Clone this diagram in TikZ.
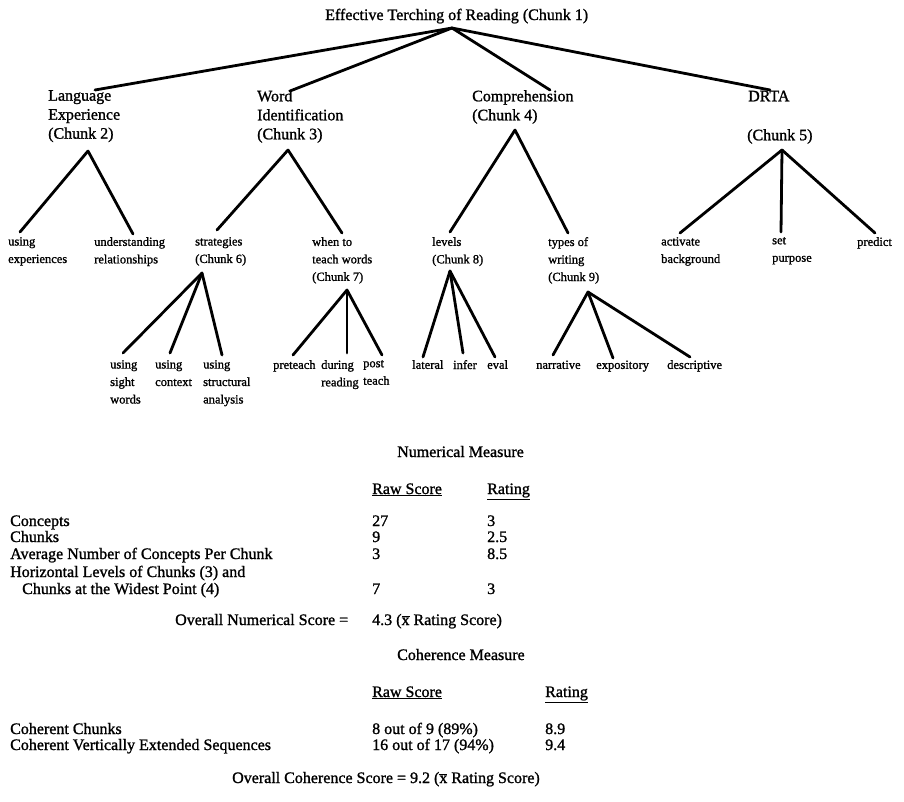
\documentclass[tikz,border=0pt]{standalone}
\usepackage{fontspec}
\setmainfont{Liberation Serif}
\newfontfamily\scanfont{Liberation Serif}[FakeBold=1.2]
\newcommand{\xbarmark}{\ensuremath{\overline{\mbox{x}}}}
\begin{document}
\begin{tikzpicture}[x=1pt,y=-1pt,
  conn/.style={line width=2.8pt, line cap=round},
  ttl/.style={font=\scanfont\fontsize{16}{19}\selectfont, inner sep=0pt, anchor=base west},
  lvtwo/.style={font=\scanfont\fontsize{16}{19}\selectfont, align=left, inner sep=0pt, anchor=north west,
     execute at begin node={\vphantom{(Ag}}},
  leaf/.style={font=\scanfont\fontsize{12.5}{17.5}\selectfont, align=left, inner sep=0pt, anchor=north west,
     execute at begin node={\vphantom{(Ag}}},
  tbl/.style={font=\scanfont\fontsize{16}{17}\selectfont, inner sep=0pt, anchor=base west},
]
\useasboundingbox (0,0) rectangle (904,801);
\fill[white] (0,0) rectangle (904,801);

% ---------- tree: level 1 and 2 ----------
\node[ttl] (c1) at (325,20) {Effective Terching of Reading (Chunk 1)};
\coordinate (c1a) at (452,28);

\node[lvtwo] (c2) at (48,90) {Language\\Experience\\(Chunk 2)};
\node[lvtwo] (c3) at (257,90) {Word\\Identification\\(Chunk 3)};
\node[lvtwo] (c4) at (472,90) {Comprehension\\(Chunk 4)};
\node[lvtwo] (c5a) at (748,90) {DRTA};
\node[lvtwo] (c5b) at (747,129) {(Chunk 5)};

\coordinate (c2t) at (95,90);
\coordinate (c3t) at (290,91);
\coordinate (c4t) at (550,90);
\coordinate (c5t) at (770,90);
\draw[conn] (c1a) -- (c2t);
\draw[conn] (c1a) -- (c3t);
\draw[conn] (c1a) -- (c4t);
\draw[conn] (c1a) -- (c5t);

\coordinate (c2x) at (88,151);
\coordinate (c3x) at (288,150);
\coordinate (c4x) at (515,130);
\coordinate (c5x) at (782,150);

% ---------- level 3 ----------
\node[leaf] (l1) at (8,237) {using\\experiences};
\node[leaf] (l2) at (94,237) {understanding\\relationships};
\node[leaf] (c6) at (195,237) {strategies\\(Chunk 6)};
\node[leaf] (c7) at (312,237) {when to\\teach words\\(Chunk 7)};
\node[leaf] (c8) at (432,237) {levels\\(Chunk 8)};
\node[leaf] (c9) at (548,237) {types of\\writing\\(Chunk 9)};
\node[leaf] (l3) at (661,237) {activate\\background};
\node[leaf] (l4) at (772,237) {set\\purpose};
\node[leaf] (l5) at (857,237) {predict};

\coordinate (l1t) at (20,232);
\coordinate (l2t) at (133,234);
\coordinate (c6t) at (217,230);
\coordinate (c7t) at (342,233);
\coordinate (c8t) at (450,232);
\coordinate (c9t) at (568,233);
\coordinate (l3t) at (680,233);
\coordinate (l4t) at (781,232);
\coordinate (l5t) at (875,233);
\draw[conn] (c2x) -- (l1t);
\draw[conn] (c2x) -- (l2t);
\draw[conn] (c3x) -- (c6t);
\draw[conn] (c3x) -- (c7t);
\draw[conn] (c4x) -- (c8t);
\draw[conn] (c4x) -- (c9t);
\draw[conn] (c5x) -- (l3t);
\draw[conn] (c5x) -- (l4t);
\draw[conn] (c5x) -- (l5t);

% ---------- level 4 ----------
\node[leaf] (m1) at (110,360) {using\\sight\\words};
\node[leaf] (m2) at (155,360) {using\\context};
\node[leaf] (m3) at (203,360) {using\\structural\\analysis};
\node[leaf] (m4) at (273,360) {preteach};
\node[leaf] (m5) at (321,360) {during\\reading};
\node[leaf] (m6) at (363,360) {post\\teach};
\node[leaf] (m7) at (412,360) {lateral};
\node[leaf] (m8) at (453,360) {infer};
\node[leaf] (m9) at (487,360) {eval};
\node[leaf] (m10) at (536,360) {narrative};
\node[leaf] (m11) at (596,360) {expository};
\node[leaf] (m12) at (667,360) {descriptive};

\coordinate (c6x) at (202,273);
\coordinate (c7x) at (347,290);
\coordinate (c8x) at (450,271);
\coordinate (c9x) at (588,292);
\coordinate (m1t) at (123,353);
\coordinate (m2t) at (170,353);
\coordinate (m3t) at (222,355);
\coordinate (m4t) at (293,355);
\coordinate (m5t) at (347,353);
\coordinate (m6t) at (382,355);
\coordinate (m7t) at (423,357);
\coordinate (m8t) at (463,353);
\coordinate (m9t) at (495,357);
\coordinate (m10t) at (553,355);
\coordinate (m11t) at (613,358);
\coordinate (m12t) at (690,357);
\draw[conn] (c6x) -- (m1t);
\draw[conn] (c6x) -- (m2t);
\draw[conn] (c6x) -- (m3t);
\draw[conn] (c7x) -- (m4t);
\draw[conn] (c7x) -- (m5t);
\draw[conn] (c7x) -- (m6t);
\draw[conn] (c8x) -- (m7t);
\draw[conn] (c8x) -- (m8t);
\draw[conn] (c8x) -- (m9t);
\draw[conn] (c9x) -- (m10t);
\draw[conn] (c9x) -- (m11t);
\draw[conn] (c9x) -- (m12t);

% ---------- numerical measure ----------
\node[tbl] (nm) at (397,457) {Numerical Measure};
\node[tbl] (nh1) at (372,494) {\underline{Raw Score}};
\node[tbl] (nh2) at (487,494) {\underline{Rating}};

\node[tbl] (r1) at (10,526) {Concepts};
\node[tbl] (r2) at (10,542) {Chunks};
\node[tbl] (r3) at (10,559) {Average Number of Concepts Per Chunk};
\node[tbl] (r4) at (10,577) {Horizontal Levels of Chunks (3) and};
\node[tbl] (r5) at (22,594) {Chunks at the Widest Point (4)};

\node[tbl] (v1) at (372,526) {27};
\node[tbl] (v2) at (372,542) {9};
\node[tbl] (v3) at (372,559) {3};
\node[tbl] (v5) at (372,594) {7};
\node[tbl] (w1) at (487,526) {3};
\node[tbl] (w2) at (487,542) {2.5};
\node[tbl] (w3) at (487,559) {8.5};
\node[tbl] (w5) at (487,594) {3};

\node[tbl] (ns) at (175,625) {Overall Numerical Score =};
\node[tbl] (nv) at (372,625) {4.3 (\xbarmark\ Rating Score)};

% ---------- coherence measure ----------
\node[tbl] (cm) at (397,660) {Coherence Measure};
\node[tbl] (ch1) at (372,697) {\underline{Raw Score}};
\node[tbl] (ch2) at (545,697) {\underline{Rating}};

\node[tbl] (s1) at (10,734) {Coherent Chunks};
\node[tbl] (s2) at (10,750) {Coherent Vertically Extended Sequences};
\node[tbl] (t1) at (372,734) {8 out of 9 (89\%)};
\node[tbl] (t2) at (372,750) {16 out of 17 (94\%)};
\node[tbl] (u1) at (545,734) {8.9};
\node[tbl] (u2) at (545,750) {9.4};

\node[tbl] (cs) at (232,783) {Overall Coherence Score = 9.2 (\xbarmark\ Rating Score)};
\end{tikzpicture}
\end{document}
